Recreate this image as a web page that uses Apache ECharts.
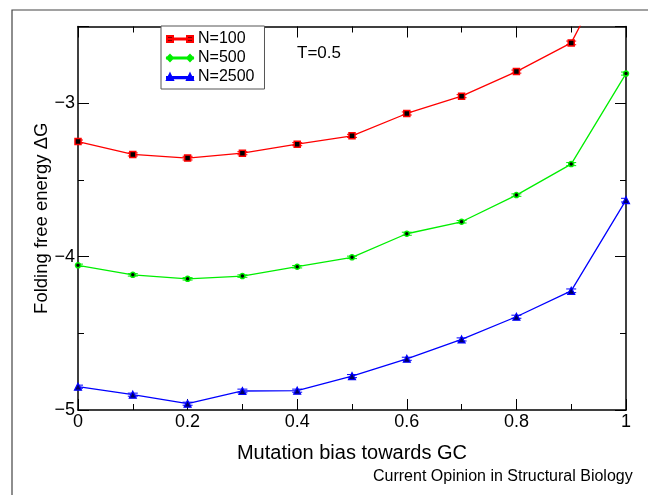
<!DOCTYPE html>
<html>
<head>
<meta charset="utf-8">
<script src="https://cdn.jsdelivr.net/npm/echarts@6/dist/echarts.min.js"></script>
<style>
  html, body { margin: 0; padding: 0; background: #fff; }
  #main { width: 648px; height: 495px; }
</style>
</head>
<body>
<div id="main"></div>
<script>
// GC 偏向
var bias = [0, 0.1, 0.2, 0.3, 0.4, 0.5, 0.6, 0.7, 0.8, 0.9, 1.0];
var n100 = [-3.25, -3.334, -3.358, -3.326, -3.267, -3.213, -3.067, -2.954, -2.794, -2.607, -1.92];
var n500 = [-4.057, -4.119, -4.145, -4.127, -4.066, -4.005, -3.851, -3.773, -3.599, -3.397, -2.807];
var n2500 = [-4.848, -4.90, -4.959, -4.876, -4.874, -4.779, -4.666, -4.54, -4.392, -4.223, -3.632];
var err100 = [0.01, 0.01, 0.012, 0.01, 0.01, 0.01, 0.01, 0.01, 0.01, 0.012, 0.012];
var err500 = [0.008, 0.008, 0.008, 0.008, 0.008, 0.008, 0.01, 0.008, 0.008, 0.01, 0.01];
var err2500 = [0.01, 0.01, 0.01, 0.012, 0.01, 0.01, 0.01, 0.01, 0.01, 0.012, 0.012];
var names = ['N=100', 'N=500', 'N=2500'];
var colors = ['#ff0000', '#00ee00', '#0000ff'];
var yTicks = [-5, -4, -3];

var font = 'Liberation Sans, Arial, Helvetica, sans-serif';

function pairs(vals) {
    return bias.map(function (x, i) { return [x, vals[i]]; });
}
function errData(vals, errs) {
    return bias.map(function (x, i) { return [x, vals[i], errs[i]]; });
}
function errSeries(vals, errs, color) {
    return {
        type: 'custom',
        clip: true,
        silent: true,
        z: 3,
        data: errData(vals, errs),
        renderItem: function (params, api) {
            var x = api.value(0), y = api.value(1), e = api.value(2);
            var lo = api.coord([x, y - e]);
            var hi = api.coord([x, y + e]);
            var st = { stroke: color, lineWidth: 1 };
            return {
                type: 'group',
                children: [
                    { type: 'line', shape: { x1: lo[0], y1: lo[1], x2: hi[0], y2: hi[1] }, style: st },
                    { type: 'line', shape: { x1: lo[0] - 5, y1: lo[1], x2: lo[0] + 5, y2: lo[1] }, style: st },
                    { type: 'line', shape: { x1: hi[0] - 5, y1: hi[1], x2: hi[0] + 5, y2: hi[1] }, style: st }
                ]
            };
        }
    };
}

var iconSquare = 'path://M0,1h6v6h-6z M20,1h6v6h-6z M0,3.4h26v1.2h-26z';
var iconDiamond = 'path://M3,1L6,4L3,7L0,4z M23,1L26,4L23,7L20,4z M0,3.4h26v1.2h-26z';
var iconTri = 'path://M3,0.8L6,7L0,7z M23,0.8L26,7L20,7z M0,3.9h26v1.2h-26z';

var gridW = 548, gridH = 383.5;

var myChart = echarts.init(document.getElementById('main'));

var axisLine = { show: true, onZero: false, lineStyle: { color: '#000', width: 1.5 } };
var noLine = { show: false, onZero: false };
var tick = { show: true, length: 11, lineStyle: { color: '#000' } };
var minor = { show: true, splitNumber: 2, length: 6, lineStyle: { color: '#000' } };

// 框线轴: 只画线和标签
function xFrame(pos, extra) {
    return Object.assign({
        type: 'value', position: pos,
        min: 0, max: 1, interval: 0.2,
        axisLine: axisLine, axisTick: { show: false },
        axisLabel: { show: false }, splitLine: { show: false }
    }, extra || {});
}
function yFrame(pos, extra) {
    return Object.assign({
        type: 'value', position: pos,
        min: -5, max: -2.5, interval: 1,
        axisLine: axisLine, axisTick: { show: false },
        axisLabel: { show: false }, splitLine: { show: false }
    }, extra || {});
}
// 刻度轴: 放到对边, 向外的刻度就朝图内
function xTicks(pos) {
    return xFrame(pos, { offset: -gridH, axisLine: noLine, axisTick: tick, minorTick: minor });
}
function yTicksAxis(pos) {
    return yFrame(pos, { offset: -gridW, axisLine: noLine, axisTick: tick, minorTick: minor });
}

option = {
    animation: false,
    backgroundColor: '#fff',
    grid: { left: 78, right: 22, top: 26.5, bottom: 85 },
    legend: {
        orient: 'vertical',
        left: 161,
        top: 26,
        itemWidth: 26,
        itemHeight: 8,
        itemGap: 3,
        padding: [5, 10, 4, 5],
        borderColor: '#555',
        borderWidth: 1,
        backgroundColor: '#fff',
        textStyle: { fontFamily: font, fontSize: 16, color: '#000' },
        data: [
            { name: names[0], icon: iconSquare },
            { name: names[1], icon: iconDiamond },
            { name: names[2], icon: iconTri }
        ]
    },
    xAxis: [
        xFrame('bottom', {
            name: 'Mutation bias towards GC',
            nameLocation: 'middle',
            nameGap: 33,
            nameMoveOverlap: false,
            nameTextStyle: { fontFamily: font, fontSize: 20, color: '#000' },
            axisLabel: { show: true, fontFamily: font, fontSize: 18, color: '#000', margin: 3 }
        }),
        xFrame('top'),
        xTicks('top'),
        xTicks('bottom')
    ],
    yAxis: [
        yFrame('left', {
            name: 'Folding free energy \u0394G',
            nameLocation: 'middle',
            nameGap: 27,
            nameMoveOverlap: false,
            nameTextStyle: { fontFamily: font, fontSize: 18.5, color: '#000' },
            axisLabel: {
                show: true, fontFamily: font, fontSize: 18, color: '#000', margin: 3,
                showMaxLabel: false,
                formatter: function (v) {
                    return yTicks.indexOf(v) >= 0 ? String(v).replace('-', '\u2212') : '';
                }
            }
        }),
        yFrame('right'),
        yTicksAxis('right'),
        yTicksAxis('left')
    ],
    series: [
        {
            name: names[0], type: 'line', data: pairs(n100), clip: true, z: 4,
            symbol: 'rect', symbolSize: 6,
            lineStyle: { color: colors[0], width: 1.3 },
            itemStyle: { color: '#000', borderColor: colors[0], borderWidth: 1.5 }
        },
        {
            name: names[1], type: 'line', data: pairs(n500), clip: true, z: 4,
            symbol: 'circle', symbolSize: 5,
            lineStyle: { color: colors[1], width: 1.3 },
            itemStyle: { color: '#000', borderColor: colors[1], borderWidth: 1.5 }
        },
        {
            name: names[2], type: 'line', data: pairs(n2500), clip: true, z: 4,
            symbol: 'triangle', symbolSize: 7,
            lineStyle: { color: colors[2], width: 1.3 },
            itemStyle: { color: '#000060', borderColor: colors[2], borderWidth: 1.2 }
        },
        errSeries(n100, err100, colors[0]),
        errSeries(n500, err500, colors[1]),
        errSeries(n2500, err2500, colors[2])
    ],
    graphic: [
        {
            type: 'rect', silent: true, z: -1,
            shape: { x: 12, y: 10, width: 700, height: 600 },
            style: { fill: 'none', stroke: '#444', lineWidth: 1.2 }
        },
        {
            type: 'text', left: 297, top: 45,
            style: { text: 'T=0.5', font: '17px ' + font, fill: '#000' }
        },
        {
            type: 'text', left: 373, top: 469,
            style: { text: 'Current Opinion in Structural Biology', font: '16px ' + font, fill: '#000' }
        }
    ]
};

myChart.setOption(option);
</script>
</body>
</html>
